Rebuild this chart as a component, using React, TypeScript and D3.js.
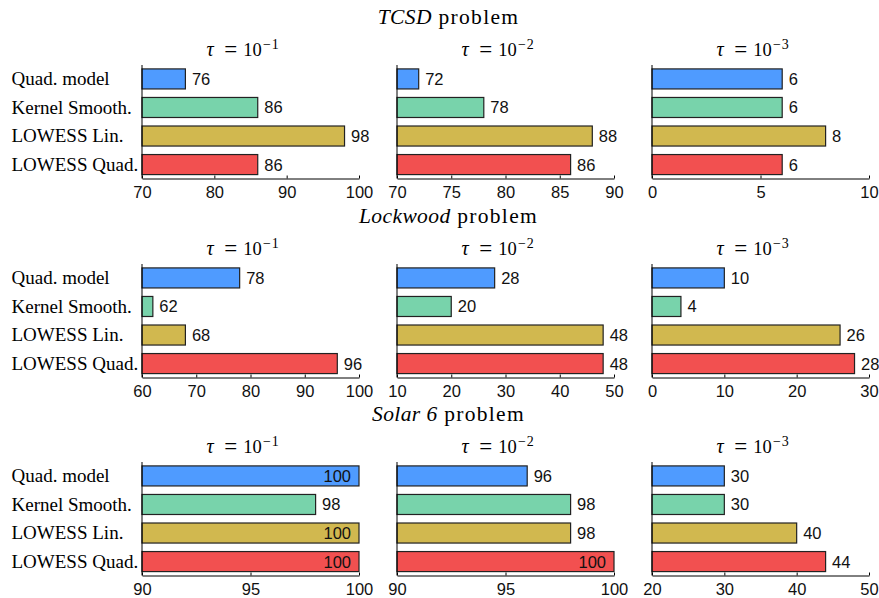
import React, { useEffect, useRef } from 'react';
import * as d3 from 'd3';

const methods = ['Quad. model', 'Kernel Smooth.', 'LOWESS Lin.', 'LOWESS Quad.'];
const colors = ['#4f9bff', '#78d3ab', '#d1b84f', '#f25050'];
const problems = ['TCSD', 'Lockwood', 'Solar 6'];
const tauExponents = ['−1', '−2', '−3'];

// values per problem, per tau, per method
const tcsd = [
  [76, 86, 98, 86],
  [72, 78, 88, 86],
  [6, 6, 8, 6]
];
const lockwood = [
  [78, 62, 68, 96],
  [28, 20, 48, 48],
  [10, 4, 26, 28]
];
const solar6 = [
  [100, 98, 100, 100],
  [96, 98, 98, 100],
  [30, 30, 40, 44]
];

const tcsdDomains = [[70, 100], [70, 90], [0, 10]];
const lockwoodDomains = [[60, 100], [10, 50], [0, 30]];
const solar6Domains = [[90, 100], [90, 100], [20, 50]];

const tcsdTicks = [[70, 80, 90, 100], [70, 75, 80, 85, 90], [0, 5, 10]];
const lockwoodTicks = [[60, 70, 80, 90, 100], [10, 20, 30, 40, 50], [0, 10, 20, 30]];
const solar6Ticks = [[90, 95, 100], [90, 95, 100], [20, 30, 40, 50]];

const allValues = [tcsd, lockwood, solar6];
const allDomains = [tcsdDomains, lockwoodDomains, solar6Domains];
const allTicks = [tcsdTicks, lockwoodTicks, solar6Ticks];

const W = 879;
const H = 598;
const SERIF = '"Liberation Serif", "Times New Roman", serif';
const SANS = '"Liberation Sans", Arial, sans-serif';

export default function App() {
  const ref = useRef<SVGSVGElement>(null);

  useEffect(() => {
    const svg = d3.select(ref.current);
    svg.selectAll('*').remove();

    const panelX = [142, 397, 652];
    const panelW = 217;
    const rowTop = [65, 264, 462];
    const rowH = 113.5;

    problems.forEach((prob, r) => {
      const top = rowTop[r];
      const bottom = top + rowH;

      // row title
      const t = svg
        .append('text')
        .attr('x', 448.5)
        .attr('y', top - 41)
        .attr('text-anchor', 'middle')
        .attr('font-family', SERIF)
        .attr('font-size', 21.5);
      t.append('tspan').attr('font-style', 'italic').attr('letter-spacing', 0.4).text(prob);
      t.append('tspan').attr('letter-spacing', 1.3).text(' problem');

      const y = d3
        .scaleBand<string>()
        .domain(methods)
        .range([top, bottom])
        .paddingInner(0.298)
        .paddingOuter(0.137);

      // method labels
      svg
        .append('g')
        .selectAll('text')
        .data(methods)
        .enter()
        .append('text')
        .attr('x', 11.5)
        .attr('y', d => (y(d) as number) + y.bandwidth() / 2)
        .attr('dy', '0.34em')
        .attr('font-family', SERIF)
        .attr('font-size', 19)
        .text(d => d);

      [0, 1, 2].forEach(c => {
        const x0 = panelX[c];
        const dom = allDomains[r][c];
        const x = d3.scaleLinear().domain(dom).range([x0, x0 + panelW]);
        const vals = allValues[r][c];
        const g = svg.append('g');

        // panel title: tau = 10^-k
        const cx = x0 + panelW / 2 - 6;
        const pt = g
          .append('text')
          .attr('y', top - 9.3)
          .attr('font-family', SERIF)
          .attr('font-size', 18.5);
        pt.append('tspan').attr('x', cx - 38).attr('font-style', 'italic').attr('font-size', 20).text('τ');
        pt.append('tspan').attr('x', cx - 20.2).attr('font-size', 23).attr('dy', 0.8).text('=');
        pt.append('tspan').attr('x', cx - 1.2).attr('dy', -0.8).text('10');
        pt.append('tspan')
          .attr('x', cx + 18.5)
          .attr('font-size', 14)
          .attr('dy', -6.7)
          .attr('letter-spacing', 0.8)
          .text(tauExponents[c]);

        g.selectAll('rect')
          .data(vals)
          .enter()
          .append('rect')
          .attr('x', x(dom[0]))
          .attr('y', (d, i) => y(methods[i]) as number)
          .attr('width', d => x(d) - x(dom[0]))
          .attr('height', y.bandwidth())
          .attr('fill', (d, i) => colors[i])
          .attr('stroke', '#222')
          .attr('stroke-width', 1.2);

        g.selectAll('text.val')
          .data(vals)
          .enter()
          .append('text')
          .attr('class', 'val')
          .attr('x', d => (d >= dom[1] ? x(d) - 8 : x(d) + 6.5))
          .attr('y', (d, i) => (y(methods[i]) as number) + y.bandwidth() / 2)
          .attr('dy', '0.36em')
          .attr('text-anchor', d => (d >= dom[1] ? 'end' : 'start'))
          .attr('font-family', SANS)
          .attr('font-size', 16.5)
          .attr('fill', '#111')
          .text(d => d);

        // y axis line
        g.append('line')
          .attr('x1', x0)
          .attr('x2', x0)
          .attr('y1', top)
          .attr('y2', bottom)
          .attr('stroke', '#000')
          .attr('stroke-width', 1);

        const ax = g
          .append('g')
          .attr('transform', `translate(0,${bottom})`)
          .call(
            d3
              .axisBottom(x)
              .tickValues(allTicks[r][c])
              .tickSizeInner(-3)
              .tickSizeOuter(0)
              .tickPadding(7.8)
              .tickFormat(d3.format('d'))
          );
        ax.select('.domain').attr('stroke', '#000');
        ax.selectAll('.tick line').attr('stroke', '#000');
        ax.selectAll('.tick text')
          .attr('font-family', SANS)
          .attr('font-size', 16.5)
          .attr('fill', '#111');
      });
    });
  }, []);

  return (
    <svg
      ref={ref}
      width={W}
      height={H}
      style={{ position: 'absolute', left: 0, top: 0, background: '#fff' }}
    />
  );
}
